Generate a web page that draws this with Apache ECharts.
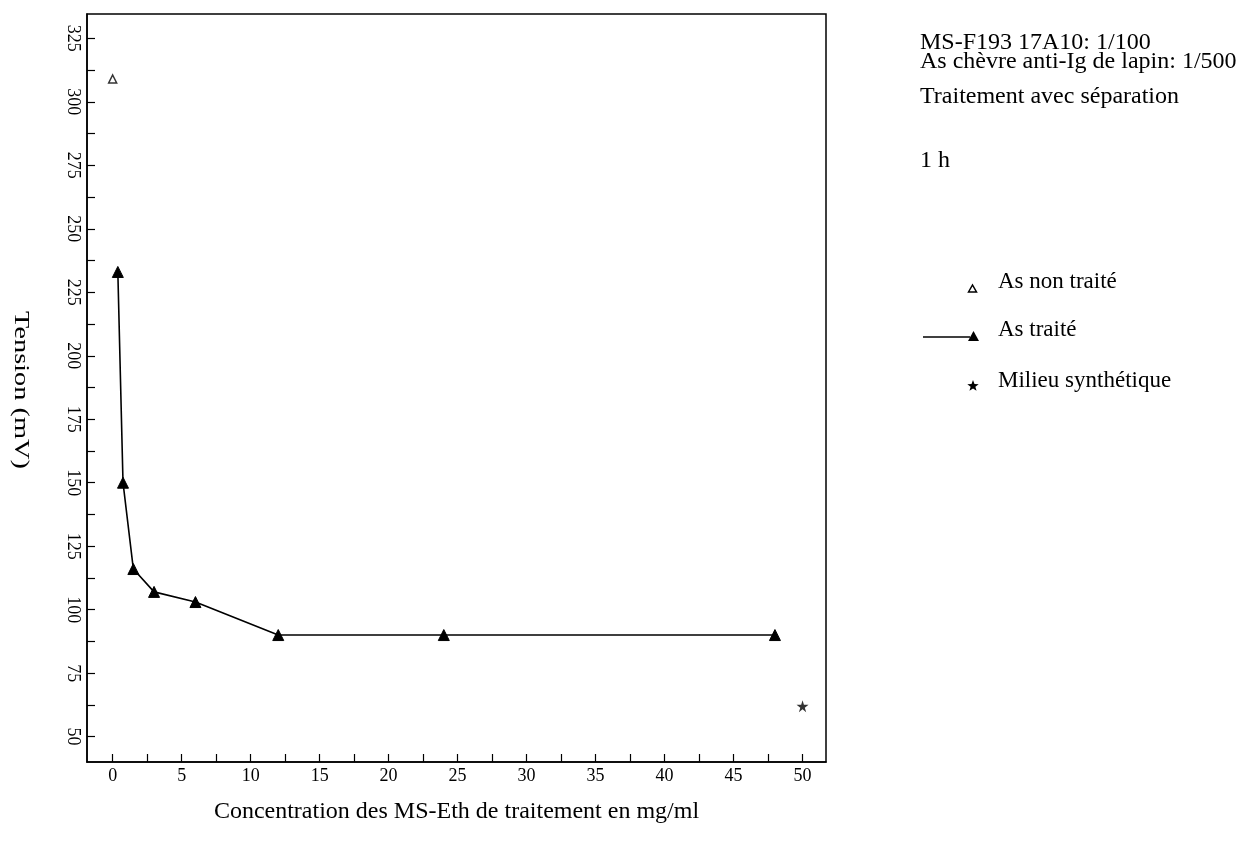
<!DOCTYPE html>
<html>
<head>
<meta charset="utf-8">
<script src="https://cdn.jsdelivr.net/npm/echarts@6/dist/echarts.min.js"></script>
<style>html,body{margin:0;padding:0;background:#fff}#c{width:1259px;height:844px}</style>
</head>
<body>
<div id="c"></div>
<script>
// Data
const concTraite = [0.375, 0.75, 1.5, 3, 6, 12, 24, 48];
const tensionTraite = [233, 150, 116, 107, 103, 90, 90, 90];
const concNonTraite = [0];
const tensionNonTraite = [309];
const concMilieu = [50];
const tensionMilieu = [62];
const xTickValues = [0,2.5,5,7.5,10,12.5,15,17.5,20,22.5,25,27.5,30,32.5,35,37.5,40,42.5,45,47.5,50];
const xLabelValues = [0,5,10,15,20,25,30,35,40,45,50];
const yTickValues = [50,62.5,75,87.5,100,112.5,125,137.5,150,162.5,175,187.5,200,212.5,225,237.5,250,262.5,275,287.5,300,312.5,325];
const yLabelValues = [50,75,100,125,150,175,200,225,250,275,300,325];
const annotations = ["MS-F193 17A10: 1/100", "As chèvre anti-Ig de lapin: 1/500", "Traitement avec séparation", "1 h"];
const legendNames = ["As non traité", "As traité", "Milieu synthétique"];
const xTitle = "Concentration des MS-Eth de traitement en mg/ml";
const yTitle = "Tension (mV)";

const FONT = '"Liberation Serif", "DejaVu Serif", serif';
const STAR = 'path://M50,0 L61,35 L98,35 L68,57 L79,91 L50,70 L21,91 L32,57 L2,35 L39,35 Z';

function starPoints(cx, cy, R, r) {
  const pts = [];
  for (let k = 0; k < 10; k++) {
    const ang = -Math.PI / 2 + k * Math.PI / 5;
    const rad = k % 2 === 0 ? R : r;
    pts.push([cx + rad * Math.cos(ang), cy + rad * Math.sin(ang)]);
  }
  return pts;
}
const tfont = '24px ' + FONT;
const lfont = '23px ' + FONT;

const chart = echarts.init(document.getElementById('c'));
chart.setOption({
  backgroundColor: '#fff',
  animation: false,
  textStyle: { fontFamily: FONT, color: '#000' },
  grid: { left: 87, right: 433, top: 14, bottom: 82, show: true, borderColor: '#000', borderWidth: 1.5, containLabel: false },
  xAxis: {
    type: 'value', min: -1.86, max: 51.7,
    axisLine: { show: true, onZero: false, lineStyle: { color: '#000', width: 1.5 } },
    axisTick: { show: true, inside: true, length: 8, customValues: xTickValues, lineStyle: { color: '#000', width: 1.2 } },
    axisLabel: { customValues: xLabelValues, fontFamily: FONT, fontSize: 18, color: '#000', margin: 5 },
    splitLine: { show: false },
    name: xTitle, nameLocation: 'middle', nameGap: 38,
    nameTextStyle: { fontFamily: FONT, fontSize: 24, color: '#000' }
  },
  yAxis: {
    type: 'value', min: 40, max: 334.6,
    axisLine: { show: true, onZero: false, lineStyle: { color: '#000', width: 1.5 } },
    axisTick: { show: true, inside: true, length: 8, customValues: yTickValues, lineStyle: { color: '#000', width: 1.2 } },
    axisLabel: { customValues: yLabelValues, rotate: -90, fontFamily: FONT, fontSize: 18, color: '#000', margin: 5 },
    splitLine: { show: false }
  },
  series: [
    {
      name: legendNames[0], type: 'scatter', symbol: 'triangle', symbolSize: 8,
      itemStyle: { color: '#fff', borderColor: '#000', borderWidth: 1.5 },
      data: concNonTraite.map((x, i) => [x, tensionNonTraite[i]])
    },
    {
      name: legendNames[1], type: 'line', symbol: 'triangle', symbolSize: 11, showAllSymbol: true,
      lineStyle: { color: '#000', width: 1.6 },
      itemStyle: { color: '#000', borderColor: '#000' },
      data: concTraite.map((x, i) => [x, tensionTraite[i]])
    },
    {
      name: legendNames[2], type: 'scatter', symbol: STAR, symbolSize: 12,
      itemStyle: { color: '#000' },
      data: concMilieu.map((x, i) => [x, tensionMilieu[i]])
    }
  ],
  graphic: [
    { type: 'text', x: 21, y: 390, rotation: -Math.PI / 2, scaleX: 1.35,
      style: { text: yTitle, font: '21px ' + FONT, fill: '#000', align: 'center', verticalAlign: 'middle' } },
    { type: 'text', x: 920, y: 31, style: { text: annotations[0], font: tfont, fill: '#000' } },
    { type: 'text', x: 920, y: 50, style: { text: annotations[1], font: tfont, fill: '#000' } },
    { type: 'text', x: 920, y: 85, style: { text: annotations[2], font: tfont, fill: '#000' } },
    { type: 'text', x: 920, y: 149, style: { text: annotations[3], font: tfont, fill: '#000' } },
    // legend
    { type: 'polygon', shape: { points: [[968.5, 292], [972.5, 285], [976.5, 292]] }, style: { fill: '#fff', stroke: '#000', lineWidth: 1.5 } },
    { type: 'text', x: 998, y: 270, style: { text: legendNames[0], font: lfont, fill: '#000' } },
    { type: 'line', shape: { x1: 923, y1: 337, x2: 970, y2: 337 }, style: { stroke: '#000', lineWidth: 1.5 } },
    { type: 'polygon', shape: { points: [[968, 341], [973.5, 331], [979, 341]] }, style: { fill: '#000' } },
    { type: 'text', x: 998, y: 318, style: { text: legendNames[1], font: lfont, fill: '#000' } },
    { type: 'polygon', shape: { points: starPoints(973, 386, 6, 2.5) }, style: { fill: '#000' } },
    { type: 'text', x: 998, y: 369, style: { text: legendNames[2], font: lfont, fill: '#000' } }
  ]
});
</script>
</body>
</html>
